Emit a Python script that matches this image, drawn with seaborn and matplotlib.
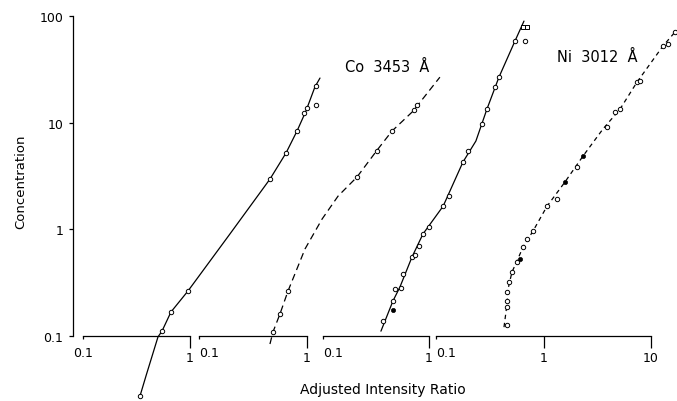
import matplotlib
matplotlib.use("Agg")
import matplotlib.pyplot as plt
import seaborn as sns
import pandas as pd
from matplotlib.ticker import FixedLocator, FixedFormatter, NullLocator

# ---------------- data ----------------
# curve 1 (solid)
c1_line_x = [0.341, 0.390, 0.502, 0.547, 0.664, 0.957, 2.36, 5.59, 7.89, 10.0, 12.1, 14.7, 16.4]
c1_line_y = [0.0274, 0.043, 0.098, 0.111, 0.168, 0.264, 0.904, 2.96, 5.19, 8.34, 12.8, 21.6, 26.2]
c1_pts_x = [0.341, 0.547, 0.664, 0.957, 5.59, 7.89, 10.0, 11.6, 12.4, 15.1, 15.1]
c1_pts_y = [0.0274, 0.111, 0.168, 0.264, 2.96, 5.19, 8.34, 12.3, 13.7, 14.6, 22.0]

# curve 2 (dashed)
c2_line_x = [0.454, 0.484, 0.562, 0.667, 0.958, 1.38, 1.94, 2.90, 4.54, 6.12, 9.58, 17.0]
c2_line_y = [0.0841, 0.109, 0.161, 0.264, 0.654, 1.25, 2.05, 3.09, 5.66, 8.34, 12.8, 26.7]
c2_pts_x = [0.484, 0.562, 0.667, 2.90, 4.45, 6.12, 9.79, 10.4]
c2_pts_y = [0.109, 0.161, 0.264, 3.09, 5.42, 8.34, 13.1, 14.6]

# curve 3 (solid)
c3_line_x = [0.352, 0.457, 0.532, 0.691, 0.877, 1.36, 2.09, 2.77, 3.52, 4.57, 6.47, 7.87]
c3_line_y = [0.111, 0.213, 0.288, 0.550, 0.904, 1.65, 4.27, 6.73, 13.4, 26.7, 58.2, 89.6]
c3_pts_x = [0.368, 0.457, 0.478, 0.544, 0.569, 0.691, 0.738, 0.805, 0.877, 1.0, 1.36, 1.55,
            2.09, 2.33, 3.16, 3.52, 4.19, 4.57, 6.47, 8.05]
c3_pts_y = [0.138, 0.213, 0.276, 0.282, 0.381, 0.550, 0.574, 0.697, 0.904, 1.05, 1.65, 2.05,
            4.27, 5.42, 9.70, 13.4, 21.6, 26.7, 58.2, 58.2]
c3_sq_x = [7.71, 8.41]
c3_sq_y = [78.7, 78.7]
c3_fill_x = [0.457]
c3_fill_y = [0.175]

# curve 4 (dashed)
c4_line_x = [0.429, 0.458, 0.468, 0.509, 0.567, 0.645, 0.799, 1.08, 1.58, 2.33, 3.57, 5.15, 7.41, 12.9, 16.7]
c4_line_y = [0.121, 0.200, 0.276, 0.398, 0.505, 0.683, 0.964, 1.65, 2.77, 4.86, 8.71, 13.4, 24.0, 52.2, 70.6]
c4_pts_x = [0.458, 0.458, 0.458, 0.458, 0.478, 0.509, 0.567, 0.645, 0.703, 0.799, 1.08, 1.34,
            2.05, 3.90, 4.62, 5.15, 7.41, 7.91, 12.9, 14.4, 16.7]
c4_pts_y = [0.127, 0.187, 0.213, 0.258, 0.321, 0.398, 0.494, 0.683, 0.811, 0.964, 1.65, 1.92,
            3.84, 9.10, 12.6, 13.4, 24.0, 24.5, 52.2, 54.6, 70.6]
c4_fill_x = [0.604, 1.58, 2.33]
c4_fill_y = [0.527, 2.77, 4.86]

y_ticks = [0.1, 1, 10, 100]
y_tick_labels = ["0.1", "1", "10", "100"]
seg_xmax = [1, 1, 1, 10]
seg_major = [[1], [1], [1], [1, 10]]
seg_major_labels = [["1"], ["1"], ["1"], ["1", "10"]]
seg_minor = [0.1]
seg_minor_labels = ["0.1"]

label_co = "Co  3453  Å"
label_ni = "Ni  3012  Å"
xlabel = "Adjusted Intensity Ratio"
ylabel = "Concentration"

# ---------------- style ----------------
sns.set_theme(style="white")
plt.rcParams["font.family"] = ["DejaVu Sans"]
plt.rcParams["axes.edgecolor"] = "black"
plt.rcParams["axes.linewidth"] = 0.9
plt.rcParams["xtick.color"] = "black"
plt.rcParams["ytick.color"] = "black"
plt.rcParams["text.color"] = "black"
plt.rcParams["axes.labelcolor"] = "black"

W, H = 677, 402
fig = plt.figure(figsize=(W / 100, H / 100), dpi=100)
fig.patch.set_facecolor("white")

seg_px = [(83, 190), (199, 307), (323, 429), (436, 651)]
y_top, y_bot = 17, 337

curves = [
    dict(lx=c1_line_x, ly=c1_line_y, px=c1_pts_x, py=c1_pts_y, ls="-"),
    dict(lx=c2_line_x, ly=c2_line_y, px=c2_pts_x, py=c2_pts_y, ls=(0, (5.5, 3.5))),
    dict(lx=c3_line_x, ly=c3_line_y, px=c3_pts_x, py=c3_pts_y, ls="-",
         sqx=c3_sq_x, sqy=c3_sq_y, fx=c3_fill_x, fy=c3_fill_y),
    dict(lx=c4_line_x, ly=c4_line_y, px=c4_pts_x, py=c4_pts_y, ls=(0, (3.5, 3)),
         fx=c4_fill_x, fy=c4_fill_y),
]

axes = []
for i, ((x0, x1), cv) in enumerate(zip(seg_px, curves)):
    ax = fig.add_axes([x0 / W, (H - y_bot) / H, (x1 - x0) / W, (y_bot - y_top) / H])
    ax.patch.set_visible(False)
    ax.set_xscale("log")
    ax.set_yscale("log")
    ax.set_xlim(0.1, seg_xmax[i])
    ax.set_ylim(0.1, 100)

    dfl = pd.DataFrame({"x": cv["lx"], "y": cv["ly"]})
    sns.lineplot(data=dfl, x="x", y="y", ax=ax, sort=False, estimator=None,
                 color="black", linewidth=0.9, linestyle=cv["ls"])
    dfp = pd.DataFrame({"x": cv["px"], "y": cv["py"]})
    sns.scatterplot(data=dfp, x="x", y="y", ax=ax, s=10, marker="o",
                    facecolor="white", edgecolor="black", linewidth=0.7, zorder=3)
    if "sqx" in cv:
        dfs = pd.DataFrame({"x": cv["sqx"], "y": cv["sqy"]})
        sns.scatterplot(data=dfs, x="x", y="y", ax=ax, s=12, marker="s",
                        facecolor="white", edgecolor="black", linewidth=0.7, zorder=3)
    if "fx" in cv:
        dff = pd.DataFrame({"x": cv["fx"], "y": cv["fy"]})
        sns.scatterplot(data=dff, x="x", y="y", ax=ax, s=9, marker="o",
                        color="black", edgecolor="black", linewidth=0.5, zorder=3)
    for art in list(ax.lines) + list(ax.collections):
        art.set_clip_on(False)

    for s in ["top", "right"]:
        ax.spines[s].set_visible(False)
    ax.set_xlabel("")
    ax.set_ylabel("")

    ax.xaxis.set_major_locator(FixedLocator(seg_major[i]))
    ax.xaxis.set_major_formatter(FixedFormatter(seg_major_labels[i]))
    ax.xaxis.set_minor_locator(FixedLocator(seg_minor))
    ax.xaxis.set_minor_formatter(FixedFormatter(seg_minor_labels))
    ax.tick_params(axis="x", which="major", direction="out", length=8.5, width=0.9,
                   pad=2.5, labelsize=9, bottom=True, labelcolor="black")
    ax.tick_params(axis="x", which="minor", direction="out", length=2.5, width=0.9,
                   pad=5, labelsize=9, bottom=True, labelcolor="black")
    if i > 0:
        for lab in ax.get_xticklabels(minor=True):
            lab.set_horizontalalignment("left")

    ax.yaxis.set_minor_locator(NullLocator())
    if i == 0:
        ax.spines["left"].set_position(("outward", 7.2))
        ax.set_yticks(y_ticks)
        ax.set_yticklabels(y_tick_labels)
        ax.tick_params(axis="y", which="major", direction="out", length=3, width=0.9,
                       pad=4, labelsize=9, left=True, labelcolor="black")
    else:
        ax.spines["left"].set_visible(False)
        ax.tick_params(axis="y", left=False, labelleft=False)
    axes.append(ax)

fig.text(345 / W, (H - 72) / H, label_co, fontsize=10.5, ha="left", va="baseline")
fig.text(557 / W, (H - 62) / H, label_ni, fontsize=10.5, ha="left", va="baseline")
fig.text(383 / W, (H - 390) / H, xlabel, fontsize=10, ha="center", va="center")
fig.text(21 / W, (H - 182) / H, ylabel, fontsize=9.5, ha="center", va="center", rotation=90)

fig.savefig("out.png", dpi=100, facecolor="white")
